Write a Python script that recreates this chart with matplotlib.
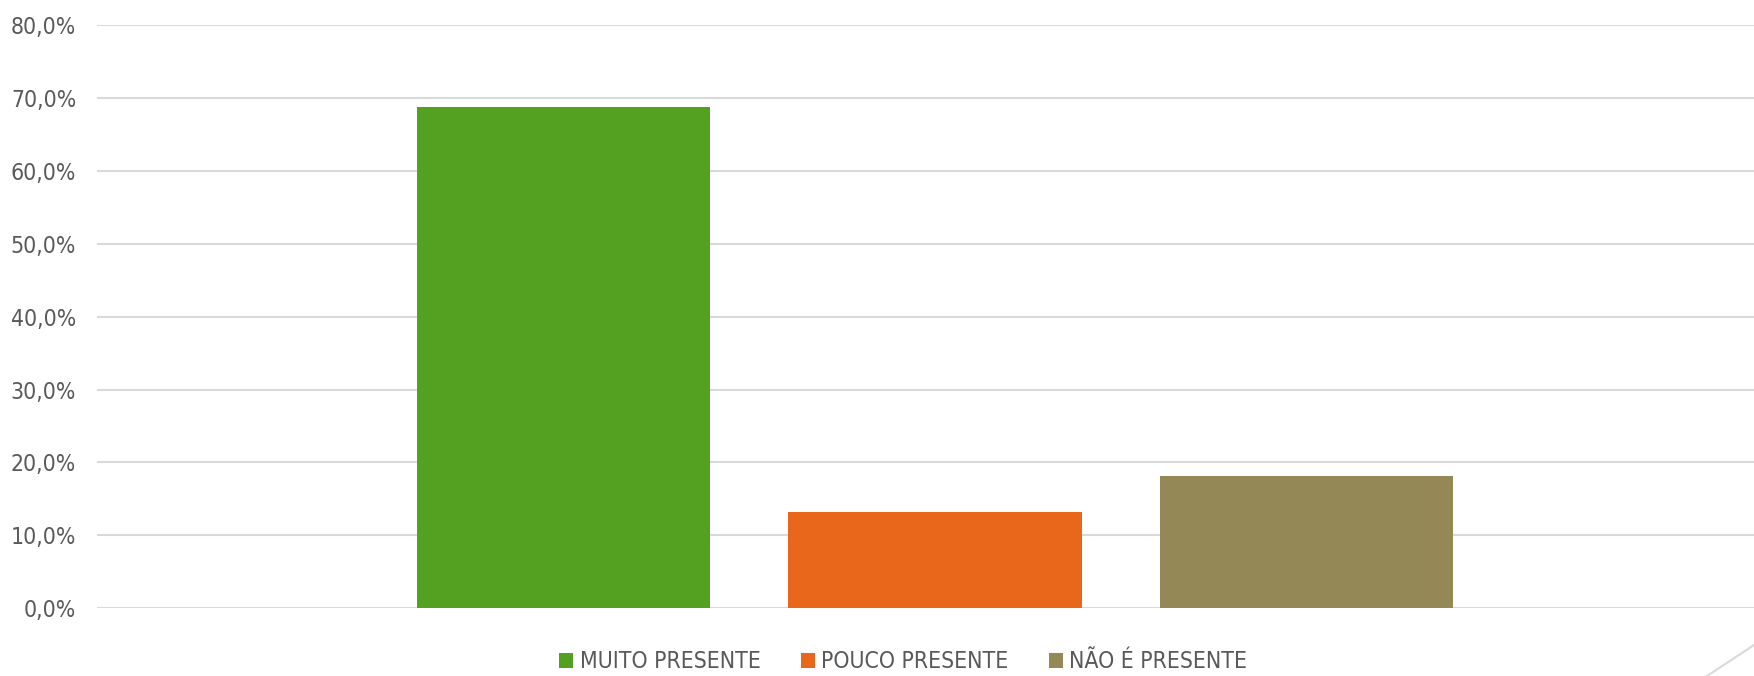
import matplotlib
matplotlib.use("Agg")
import matplotlib.pyplot as plt
from matplotlib.lines import Line2D
from matplotlib.ticker import FuncFormatter

categories = ["MUITO PRESENTE", "POUCO PRESENTE", "NÃO É PRESENTE"]
values = [0.687, 0.132, 0.181]
colors = ["#54A021", "#E8671A", "#938856"]
yticks = [0.0, 0.1, 0.2, 0.3, 0.4, 0.5, 0.6, 0.7, 0.8]

plt.rcParams['font.family'] = ['DejaVu Sans']
plt.rcParams['font.stretch'] = 'condensed'

fig = plt.figure(figsize=(17.54, 6.76), dpi=100)
ax = fig.add_axes([97/1754, 1-608.3/676, 1-97/1754, (608.3-25)/676])

for i, (c, v, col) in enumerate(zip(categories, values, colors)):
    ax.bar(i, v, width=0.789, color=col, label=c, zorder=3)

ax.set_xlim(-1.256, 3.205)
ax.set_ylim(0, 0.8)
ax.set_yticks(yticks)
ax.yaxis.set_major_formatter(FuncFormatter(lambda y, p: f"{y*100:.1f}%".replace(".", ",")))
ax.tick_params(axis='y', length=0, pad=15, labelsize=16.5, labelcolor="#595959")
ax.set_xticks([])
ax.grid(axis='y', color="#d9d9d9", linewidth=1.5, zorder=0)
for s in ax.spines.values():
    s.set_visible(False)

leg = fig.legend(loc='center', bbox_to_anchor=(0.515, 0.021), ncol=3, frameon=False,
                 fontsize=16.5, handlelength=0.6, handleheight=0.6, handletextpad=0.3,
                 columnspacing=1.75, labelcolor="#595959")

fig.add_artist(Line2D([1707/1754, 1.0], [0.0, 31/676], color="#d9d9d9", linewidth=1.5,
                      transform=fig.transFigure))

fig.savefig("out.png", dpi=100)
